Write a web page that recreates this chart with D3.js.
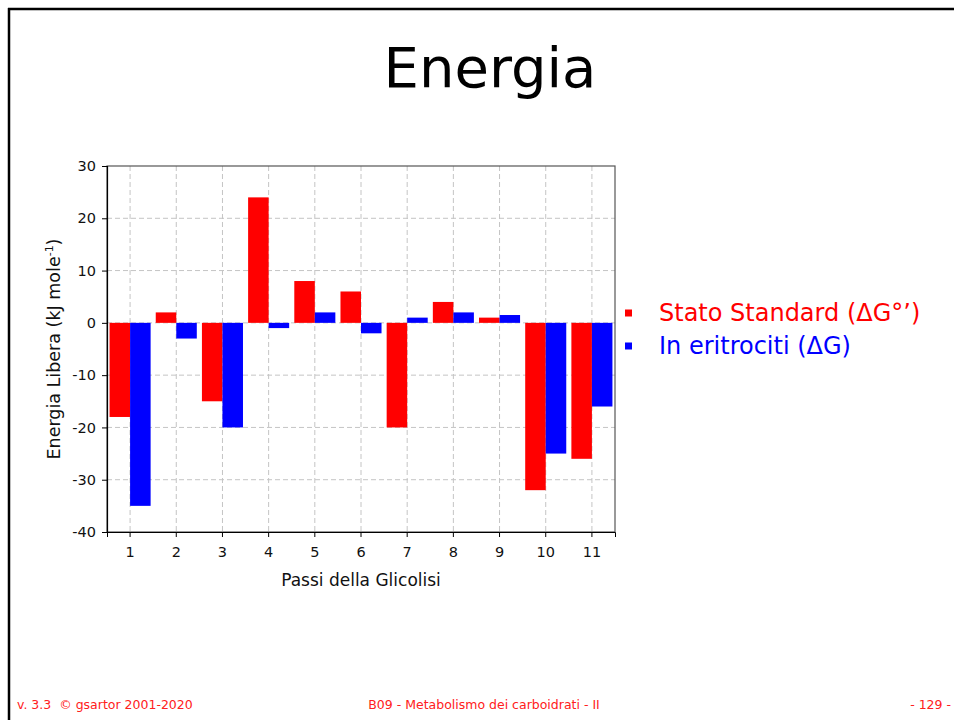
<!DOCTYPE html>
<html>
<head>
<meta charset="utf-8">
<script src="https://cdn.jsdelivr.net/npm/d3@7"></script>
<style>
  html, body { margin: 0; padding: 0; background: #fff; }
  svg { display: block; }
</style>
</head>
<body>
<svg id="chart" width="954" height="720"></svg>
<script>
// Glycolysis steps and free-energy changes (kJ/mol)
const steps = ["1", "2", "3", "4", "5", "6", "7", "8", "9", "10", "11"];
const standardDG = [-18, 2, -15, 24, 8, 6, -20, 4, 1, -32, -26];
const erythrocyteDG = [-35, -3, -20, -1, 2, -2, 1, 2, 1.5, -25, -16];
const yTicks = [30, 20, 10, 0, -10, -20, -30, -40];
const seriesNames = ["Stato Standard (\u0394G\u00B0\u2019)", "In eritrociti (\u0394G)"];
const seriesColors = ["#ff0000", "#0000ff"];

const svg = d3.select("#chart");
const font = "Verdana, 'DejaVu Sans', sans-serif";

// Slide frame (top and left rules)
svg.append("line").attr("x1", 8).attr("x2", 954).attr("y1", 9).attr("y2", 9)
  .attr("stroke", "#000").attr("stroke-width", 2.5);
svg.append("line").attr("x1", 9).attr("x2", 9).attr("y1", 8).attr("y2", 720)
  .attr("stroke", "#000").attr("stroke-width", 2.5);

// Title
svg.append("text").attr("x", 490).attr("y", 87).attr("text-anchor", "middle")
  .attr("font-family", font).attr("font-size", 56).attr("fill", "#000").text("Energia");

// Plot area
const plot = { left: 107, right: 615, top: 166, bottom: 532 };
const x = d3.scaleBand().domain(steps).range([plot.left, plot.right]).padding(0);
const y = d3.scaleLinear().domain([-40, 30]).range([plot.bottom, plot.top]);
const inner = d3.scaleBand().domain([0, 1]).range([0, x.bandwidth()]).paddingOuter(0.125).paddingInner(0);

const g = svg.append("g");

// Dashed grid
g.append("g").selectAll("line").data(yTicks.filter(t => t !== 30 && t !== -40)).join("line")
  .attr("x1", plot.left).attr("x2", plot.right)
  .attr("y1", d => y(d)).attr("y2", d => y(d))
  .attr("stroke", "#c4c4c4").attr("stroke-dasharray", "5,3");
g.append("g").selectAll("line").data(steps).join("line")
  .attr("x1", d => x(d) + x.bandwidth() / 2).attr("x2", d => x(d) + x.bandwidth() / 2)
  .attr("y1", plot.top).attr("y2", plot.bottom)
  .attr("stroke", "#c4c4c4").attr("stroke-dasharray", "5,3");

// Bars
const rows = steps.map((s, i) => ({ step: s, vals: [standardDG[i], erythrocyteDG[i]] }));
const groups = g.append("g").selectAll("g").data(rows).join("g")
  .attr("transform", d => `translate(${x(d.step)},0)`);
groups.selectAll("rect").data(d => d.vals.map((v, k) => ({ v, k }))).join("rect")
  .attr("x", d => inner(d.k))
  .attr("width", inner.bandwidth())
  .attr("y", d => y(Math.max(0, d.v)))
  .attr("height", d => Math.abs(y(d.v) - y(0)))
  .attr("fill", d => seriesColors[d.k]);

// Plot frame
g.append("rect").attr("x", plot.left).attr("y", plot.top)
  .attr("width", plot.right - plot.left).attr("height", plot.bottom - plot.top)
  .attr("fill", "none").attr("stroke", "#555").attr("stroke-width", 1.2);

// Axes (plain hyphen for negative numbers)
const yAxis = g.append("g").attr("transform", `translate(${plot.left},0)`)
  .call(d3.axisLeft(y).tickValues(yTicks).tickFormat(d => String(d)).tickSize(5).tickPadding(6));
const xAxis = g.append("g").attr("transform", `translate(0,${plot.bottom})`)
  .call(d3.axisBottom(x).tickSize(5).tickPadding(10));
[yAxis, xAxis].forEach(a => {
  a.select(".domain").attr("stroke", "#000");
  a.selectAll(".tick line").attr("stroke", "#000");
  a.selectAll(".tick text").attr("font-family", font).attr("font-size", 14.5).attr("fill", "#111");
});
yAxis.select(".domain").attr("stroke", "#000").attr("stroke-width", 1.2);

// Axis titles
svg.append("text").attr("x", 361).attr("y", 586)
  .attr("text-anchor", "middle").attr("font-family", font).attr("font-size", 17)
  .attr("fill", "#111").text("Passi della Glicolisi");

const yl = svg.append("text")
  .attr("transform", `translate(60,349) rotate(-90)`)
  .attr("text-anchor", "middle").attr("font-family", font).attr("font-size", 17.5).attr("fill", "#111");
yl.append("tspan").text("Energia Libera (kJ mole");
yl.append("tspan").attr("dy", -7).attr("font-size", 11).text("-1");
yl.append("tspan").attr("dy", 7).text(")");

// Legend
const legend = svg.append("g");
seriesNames.forEach((name, k) => {
  const yy = 313 + k * 33;
  legend.append("rect").attr("x", 625).attr("y", yy - 3.5).attr("width", 7).attr("height", 7)
    .attr("fill", seriesColors[k]);
  legend.append("text").attr("x", 659).attr("y", yy + 8)
    .attr("font-family", font).attr("font-size", 24).attr("fill", seriesColors[k]).text(name);
});

// Footer
const footFont = "'DejaVu Sans', sans-serif";
const footSize = 12.5;
svg.append("text").attr("x", 17).attr("y", 709).attr("font-family", footFont).attr("font-size", footSize)
  .attr("fill", "#ff2020").style("white-space", "pre").text("v. 3.3  \u00A9 gsartor 2001-2020");
svg.append("text").attr("x", 484).attr("y", 709).attr("text-anchor", "middle")
  .attr("font-family", footFont).attr("font-size", footSize).attr("fill", "#ff2020")
  .text("B09 - Metabolismo dei carboidrati - II");
svg.append("text").attr("x", 951).attr("y", 709).attr("text-anchor", "end")
  .attr("font-family", footFont).attr("font-size", footSize).attr("fill", "#ff2020").text("- 129 -");
</script>
</body>
</html>
